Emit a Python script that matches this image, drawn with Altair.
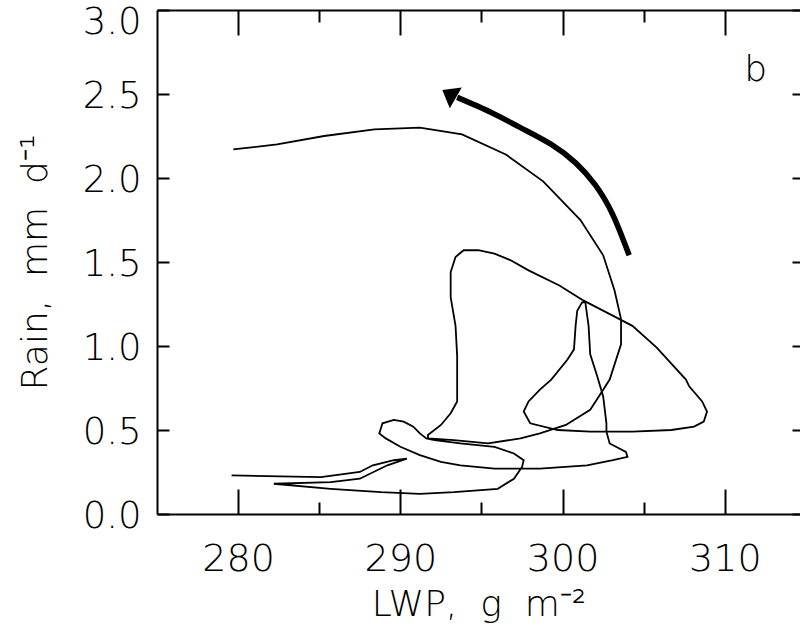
import altair as alt
import pandas as pd

# ---- data ----
lwp = [279.6, 285.1, 287.5, 288.3, 289.6, 290.4,
       289.2, 287.5, 285.7, 282.2,
       285.7, 288.8, 291.2, 293.3, 296.0, 297.0, 297.5, 297.6, 297.0, 295.8, 293.7, 292.1,
       291.6, 291.2, 290.8, 290.2, 289.6, 288.9, 288.8, 288.7, 289.1, 290.0, 291.2, 292.5, 293.7, 295.8, 298.6,
       301.5, 303.1, 304.0, 303.9, 302.9, 302.7, 302.7, 302.5, 302.1,
       301.7, 301.6, 301.4, 301.2, 300.9, 300.8, 300.7, 300.3, 299.3,
       298.6, 297.9, 297.6, 298.0, 299.7, 301.7, 304.3, 306.7, 308.1, 308.7, 308.9, 308.6, 307.8,
       307.6, 305.8, 304.3, 302.7, 301.3, 299.8, 297.9, 296.8, 295.8, 294.8, 293.9,
       293.4, 293.1, 293.1, 293.4, 293.5, 293.5, 293.1, 292.5, 291.7, 291.7,
       293.3, 295.4, 297.4, 298.6, 300.2, 301.7, 302.5, 302.9, 303.6, 303.6, 303.2, 302.5,
       301.1, 299.9, 298.8, 296.5, 293.8, 291.2, 288.4, 285.3, 282.4, 279.7]
rain = [0.23, 0.22, 0.25, 0.29, 0.32, 0.33,
        0.29, 0.21, 0.19, 0.18,
        0.15, 0.13, 0.12, 0.13, 0.15, 0.21, 0.28, 0.32, 0.36, 0.40, 0.42, 0.44,
        0.45, 0.48, 0.52, 0.55, 0.56, 0.54, 0.51, 0.48, 0.45, 0.40, 0.35, 0.31, 0.29, 0.27, 0.27,
        0.29, 0.32, 0.34, 0.37, 0.42, 0.49, 0.54, 0.70, 0.83,
        0.95, 1.12, 1.26, 1.26, 1.21, 1.12, 0.98, 0.92, 0.80,
        0.74, 0.67, 0.61, 0.54, 0.50, 0.49, 0.49, 0.50, 0.52, 0.55, 0.61, 0.67, 0.76,
        0.80, 0.99, 1.12, 1.20, 1.27, 1.36, 1.45, 1.51, 1.55, 1.57, 1.57,
        1.53, 1.44, 1.29, 1.12, 0.94, 0.67, 0.60, 0.53, 0.47, 0.45,
        0.44, 0.42, 0.45, 0.48, 0.53, 0.62, 0.74, 0.80, 1.01, 1.16, 1.33, 1.54,
        1.75, 1.87, 1.98, 2.14, 2.26, 2.30, 2.29, 2.25, 2.20, 2.17]

arrow_lwp = [304.1, 303.1, 302.0, 300.8, 299.3, 297.4, 295.6, 293.5]
arrow_rain = [1.54, 1.78, 1.96, 2.09, 2.20, 2.30, 2.39, 2.48]
head_lwp = [293.0]
head_rain = [2.50]

label_text = ["b"]
label_lwp = [311.9]
label_rain = [2.58]

x_major = [280, 290, 300, 310]
x_all_ticks = [280, 285, 290, 295, 300, 305, 310]
y_ticks = [0.0, 0.5, 1.0, 1.5, 2.0, 2.5, 3.0]

curve_df = pd.DataFrame({"lwp": lwp, "rain": rain, "idx": list(range(len(lwp)))})
arrow_df = pd.DataFrame({"lwp": arrow_lwp, "rain": arrow_rain, "idx": list(range(len(arrow_lwp)))})
head_df = pd.DataFrame({"lwp": head_lwp, "rain": head_rain})
label_df = pd.DataFrame({"lwp": label_lwp, "rain": label_rain, "t": label_text})

FONT = "DejaVu Sans"
W = 200
PW, PH = 643, 504           # plot area (right frame edge falls just outside the window)
xs = alt.Scale(domain=[275, 275 + PW / 16.225], nice=False, zero=False)
ys = alt.Scale(domain=[0, 3], nice=False, zero=False)

common = dict(grid=False, tickColor="black", tickWidth=2, domainColor="black", domainWidth=2,
              labelColor="black", labelFont=FONT, labelFontWeight=W,
              titleColor="black", titleFont=FONT, titleFontSize=36, titleFontWeight=W, zindex=1)
xtick_size = alt.condition("datum.value % 10 == 0", alt.value(25), alt.value(12))

# bottom frame + labels, left frame + labels
curve = alt.Chart(curve_df).mark_line(color="black", strokeWidth=1.8).encode(
    x=alt.X("lwp:Q", scale=xs, axis=alt.Axis(orient="bottom", values=x_major, ticks=False, tickSize=0,
                                             domain=True, format="d", labelPadding=26, labelFontSize=38,
                                             title="LWP,\u00a0 g\u00a0 m\u207b\u00b2",
                                             titlePadding=9, **common)),
    y=alt.Y("rain:Q", scale=ys, axis=alt.Axis(orient="left", values=y_ticks, ticks=False, tickSize=0,
                                              domain=True, format=".1f", labelPadding=16, labelFontSize=37,
                                              labelOffset=alt.condition("datum.value >= 3", alt.value(12), alt.value(2)),
                                              title="Rain,\u00a0 mm\u00a0 d\u207b\u00b9",
                                              titlePadding=28, **common)),
    order="idx:Q",
)

# inward ticks on the bottom edge and on the left edge
arrow = alt.Chart(arrow_df).mark_line(color="black", strokeWidth=5.5, strokeCap="butt",
                                      interpolate="natural").encode(
    x=alt.X("lwp:Q", scale=xs, axis=alt.Axis(orient="top", offset=-PH, values=x_all_ticks, ticks=True,
                                             tickSize=xtick_size, domain=False, labels=False, title=None,
                                             **common)),
    y=alt.Y("rain:Q", scale=ys, axis=alt.Axis(orient="right", offset=-PW, values=y_ticks, ticks=True,
                                              tickSize=12, domain=False, labels=False, title=None, **common)),
    order="idx:Q",
)

# inward ticks + frame on the top edge
head = alt.Chart(head_df).mark_point(
    shape="M0,-0.55L0.85,0.55L-0.85,0.55Z", size=800, angle=300, filled=True,
    color="black", opacity=1, strokeWidth=0,
).encode(
    x=alt.X("lwp:Q", scale=xs, axis=alt.Axis(orient="bottom", offset=-PH, values=x_all_ticks, ticks=True,
                                             tickSize=xtick_size, domain=True, labels=False, title=None,
                                             **common)),
    y=alt.Y("rain:Q", scale=ys, axis=None),
)

# panel letter; its y axis gives the short inward ticks at the window's right edge
label = alt.Chart(label_df).mark_text(font=FONT, fontSize=36, fontWeight=W, color="black",
                                      align="center", baseline="alphabetic").encode(
    x=alt.X("lwp:Q", scale=xs, axis=None),
    y=alt.Y("rain:Q", scale=ys, axis=alt.Axis(orient="left", offset=-PW, values=y_ticks, ticks=True,
                                              tickSize=8, domain=False, labels=False, title=None, **common)),
    text="t:N",
)

chart = alt.layer(curve, arrow, head, label).resolve_axis(
    x="independent", y="independent"
).properties(
    width=PW, height=PH,
    autosize=alt.AutoSizeParams(type="none"),
    padding={"left": 157, "top": 10, "right": 0, "bottom": 119},
    background="white",
).configure_view(stroke="transparent", strokeWidth=0)

chart.save("out.html", embed_options={"renderer": "svg", "actions": False})
